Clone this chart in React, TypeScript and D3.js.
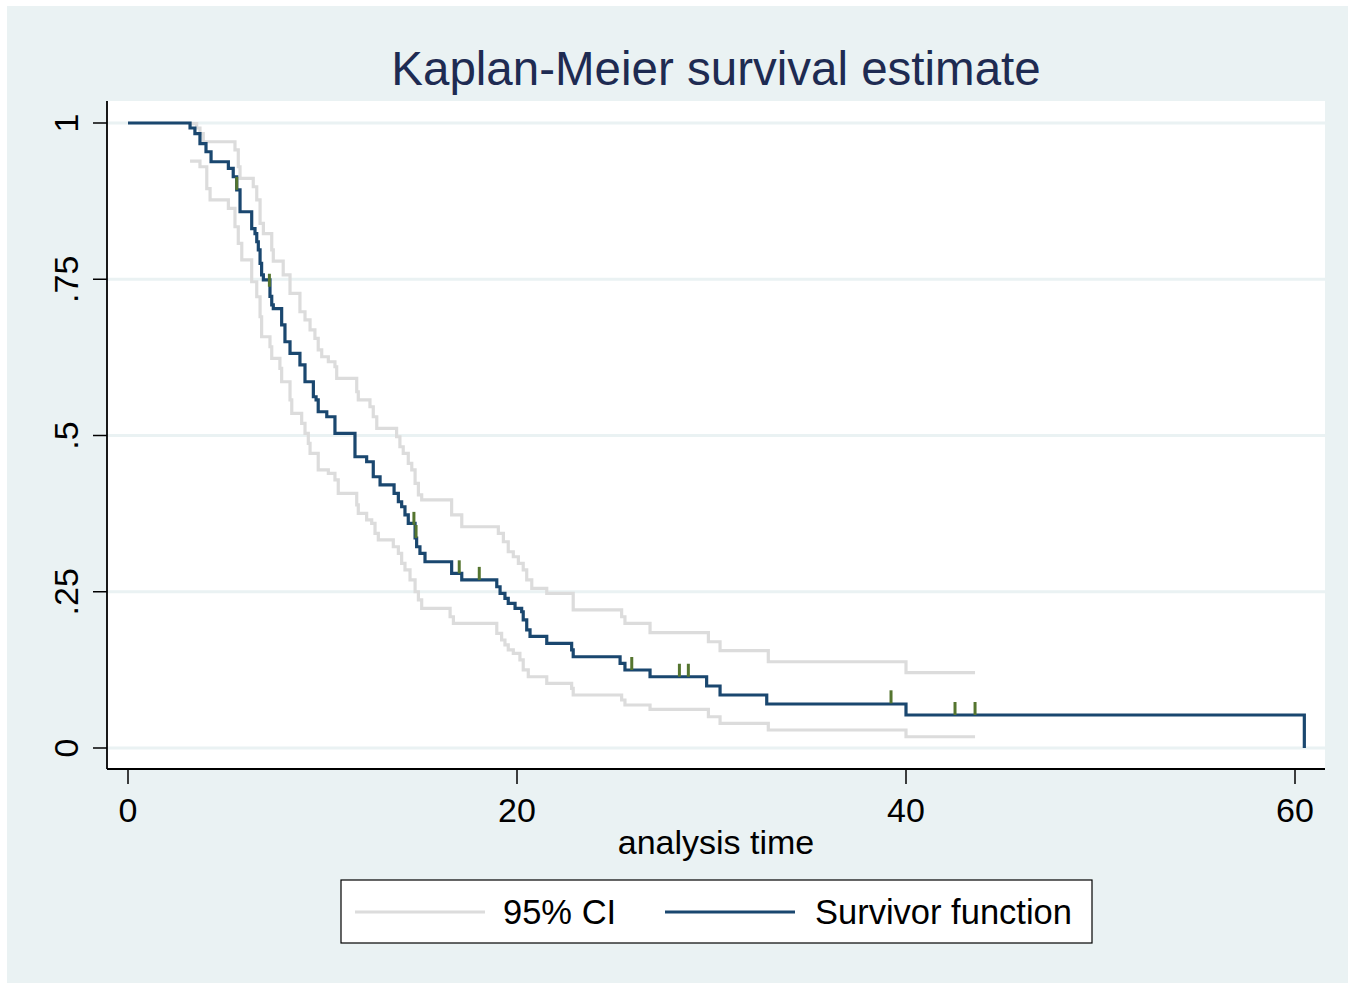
import React, { useEffect, useRef } from 'react'
import * as d3 from 'd3'

// survivor function: time of each step and value after it
const survTimes = [0, 3.19, 3.44, 3.70, 4.01, 4.27, 5.16, 5.41, 5.59, 5.76, 6.36, 6.53, 6.62, 6.70, 6.79, 6.87, 6.96,
  7.30, 7.39, 7.47, 7.90, 8.07, 8.33, 8.84, 9.10, 9.53, 9.67, 9.78, 10.22, 10.64, 11.67, 12.27, 12.61, 12.96,
  13.68, 13.90, 14.07, 14.24, 14.41, 14.76, 14.84, 15.01, 15.27, 16.64, 17.16, 18.96, 19.13, 19.38, 19.55,
  19.90, 20.24, 20.32, 20.50, 20.67, 21.53, 22.81, 22.89, 25.30, 25.55, 26.84, 29.75, 30.44, 32.84, 40.00, 60.48]
const survValues = [1, 0.992, 0.983, 0.967, 0.954, 0.938, 0.9275, 0.914, 0.893, 0.858, 0.831, 0.823, 0.810, 0.797,
  0.7755, 0.757, 0.749, 0.7225, 0.709, 0.703, 0.677, 0.650, 0.6315, 0.613, 0.586, 0.562, 0.557, 0.538, 0.530,
  0.5035, 0.466, 0.458, 0.434, 0.421, 0.4075, 0.394, 0.386, 0.373, 0.3595, 0.336, 0.322, 0.3115, 0.298, 0.2795,
  0.269, 0.258, 0.2475, 0.2395, 0.2315, 0.2235, 0.218, 0.205, 0.189, 0.1787, 0.1675, 0.157, 0.146, 0.1355,
  0.1248, 0.114, 0.0992, 0.0848, 0.0704, 0.0528, 0]

// 95% CI upper bound
const upperTimes = [3.19, 3.53, 3.70, 3.87, 5.50, 5.67, 5.76, 6.44, 6.62, 6.79, 6.96, 7.39, 7.47, 7.98, 8.33, 8.84,
  9.10, 9.36, 9.61, 9.78, 9.96, 10.30, 10.64, 10.73, 11.76, 11.84, 12.44, 12.61, 12.79, 13.81, 13.98, 14.15,
  14.41, 14.59, 14.76, 14.93, 15.10, 16.64, 17.16, 19.04, 19.30, 19.55, 19.81, 20.07, 20.32, 20.50, 20.76,
  21.53, 22.89, 25.38, 25.55, 26.84, 29.84, 30.44, 32.92, 40.00, 43.55]
const upperValues = [0.999, 0.992, 0.983, 0.970, 0.957, 0.930, 0.9115, 0.898, 0.877, 0.8395, 0.823, 0.797, 0.779,
  0.757, 0.7275, 0.698, 0.685, 0.669, 0.6555, 0.637, 0.626, 0.618, 0.610, 0.5915, 0.570, 0.557, 0.546, 0.530,
  0.5115, 0.498, 0.482, 0.4715, 0.4555, 0.445, 0.4235, 0.405, 0.397, 0.373, 0.354, 0.3435, 0.330, 0.314, 0.306,
  0.2955, 0.285, 0.269, 0.2555, 0.2475, 0.221, 0.210, 0.1995, 0.1845, 0.170, 0.1557, 0.138, 0.1205, 0.1205]

// 95% CI lower bound
const lowerTimes = [3.19, 3.70, 4.05, 4.22, 5.16, 5.50, 5.67, 5.85, 6.36, 6.62, 6.79, 6.87, 7.30, 7.39, 7.81, 7.90,
  8.33, 8.42, 8.93, 9.10, 9.27, 9.36, 9.78, 10.30, 10.64, 10.81, 11.76, 11.84, 12.27, 12.53, 12.70, 12.87,
  13.64, 13.90, 14.07, 14.24, 14.50, 14.76, 14.93, 15.10, 16.56, 16.73, 18.96, 19.21, 19.38, 19.55, 19.81,
  20.15, 20.32, 20.58, 21.53, 22.81, 22.89, 25.38, 25.55, 26.84, 29.84, 30.44, 32.92, 40.00, 43.55]
const lowerValues = [0.939, 0.930, 0.895, 0.877, 0.8635, 0.834, 0.8075, 0.781, 0.746, 0.722, 0.690, 0.658, 0.642,
  0.6235, 0.6075, 0.586, 0.557, 0.5355, 0.5195, 0.5035, 0.4875, 0.4715, 0.445, 0.4395, 0.429, 0.4075, 0.389,
  0.3755, 0.365, 0.3595, 0.3435, 0.333, 0.322, 0.3115, 0.2955, 0.285, 0.269, 0.250, 0.237, 0.2235, 0.210,
  0.1995, 0.1835, 0.1728, 0.165, 0.157, 0.1515, 0.141, 0.125, 0.114, 0.1035, 0.0955, 0.0848, 0.0768, 0.0688,
  0.0619, 0.050, 0.0395, 0.0288, 0.018, 0.018]

// censored observations
const censorTimes = [5.59, 7.27, 14.70, 14.81, 17.03, 18.06, 25.90, 28.35, 28.81, 39.23, 42.52, 43.55]
const censorValues = [0.893, 0.738, 0.357, 0.336, 0.2795, 0.269, 0.1248, 0.114, 0.114, 0.0715, 0.0528, 0.0528]

const xTicks = [0, 20, 40, 60]
const yTicks = [0, 0.25, 0.5, 0.75, 1]
const yTickLabels = ['0', '.25', '.5', '.75', '1']
const legendLabels = ['95% CI', 'Survivor function']

const FONT = '"Liberation Sans", Arial, Helvetica, sans-serif'
const NAVY = '#1a476f'
const CI_GRAY = '#dcdcdc'
const GREEN = '#55752f'
const BG = '#eaf2f3'

export default function App() {
  const ref = useRef<SVGSVGElement>(null)

  useEffect(() => {
    const svg = d3.select(ref.current)
    svg.selectAll('*').remove()

    const plot = { left: 107, right: 1325, top: 101, bottom: 769 }
    const x = d3.scaleLinear().domain([0, 60]).range([128, 1295])
    const y = d3.scaleLinear().domain([0, 1]).range([748, 123])

    svg.append('rect').attr('x', 7).attr('y', 6).attr('width', 1341).attr('height', 977).attr('fill', BG)
    svg.append('rect')
      .attr('x', plot.left).attr('y', plot.top)
      .attr('width', plot.right - plot.left).attr('height', plot.bottom - plot.top)
      .attr('fill', '#fff')

    // grid
    svg.append('g').selectAll('line').data(yTicks).enter().append('line')
      .attr('x1', plot.left).attr('x2', plot.right)
      .attr('y1', d => y(d)).attr('y2', d => y(d))
      .attr('stroke', BG).attr('stroke-width', 3)

    const step = d3.line<[number, number]>()
      .x(d => x(d[0])).y(d => y(d[1]))
      .curve(d3.curveStepAfter)

    const drawStep = (times: number[], values: number[], color: string) => {
      const pts = times.map((t, i) => [t, values[i]] as [number, number])
      svg.append('path')
        .attr('d', step(pts))
        .attr('fill', 'none')
        .attr('stroke', color)
        .attr('stroke-width', 3.2)
        .attr('stroke-linejoin', 'miter')
    }
    drawStep(upperTimes, upperValues, CI_GRAY)
    drawStep(lowerTimes, lowerValues, CI_GRAY)
    drawStep(survTimes, survValues, NAVY)

    svg.append('g').selectAll('line').data(censorTimes).enter().append('line')
      .attr('x1', d => x(d)).attr('x2', d => x(d))
      .attr('y1', (d, i) => y(censorValues[i]))
      .attr('y2', (d, i) => y(censorValues[i]) - 13)
      .attr('stroke', GREEN).attr('stroke-width', 3)

    // axes
    svg.append('line')
      .attr('x1', plot.left).attr('x2', plot.left).attr('y1', plot.top).attr('y2', plot.bottom)
      .attr('stroke', '#000').attr('stroke-width', 1.8)
    svg.append('line')
      .attr('x1', plot.left).attr('x2', plot.right).attr('y1', plot.bottom).attr('y2', plot.bottom)
      .attr('stroke', '#000').attr('stroke-width', 1.8)

    const yAxis = svg.append('g')
    yAxis.selectAll('line').data(yTicks).enter().append('line')
      .attr('x1', plot.left - 14).attr('x2', plot.left)
      .attr('y1', d => y(d)).attr('y2', d => y(d))
      .attr('stroke', '#000').attr('stroke-width', 1.5)
    yAxis.selectAll('text').data(yTicks).enter().append('text')
      .attr('transform', d => `translate(78,${y(d)}) rotate(-90)`)
      .attr('text-anchor', 'middle')
      .attr('font-family', FONT).attr('font-size', 34)
      .text((d, i) => yTickLabels[i])

    const xAxis = svg.append('g')
    xAxis.selectAll('line').data(xTicks).enter().append('line')
      .attr('x1', d => x(d)).attr('x2', d => x(d))
      .attr('y1', plot.bottom).attr('y2', plot.bottom + 15)
      .attr('stroke', '#000').attr('stroke-width', 1.5)
    xAxis.selectAll('text').data(xTicks).enter().append('text')
      .attr('x', d => x(d)).attr('y', 822)
      .attr('text-anchor', 'middle')
      .attr('font-family', FONT).attr('font-size', 34)
      .text(d => d)

    svg.append('text')
      .attr('x', 716).attr('y', 854)
      .attr('text-anchor', 'middle')
      .attr('font-family', FONT).attr('font-size', 34)
      .text('analysis time')

    svg.append('text')
      .attr('x', 716).attr('y', 85)
      .attr('text-anchor', 'middle')
      .attr('font-family', FONT).attr('font-size', 47.5)
      .attr('fill', '#1e2b52')
      .text('Kaplan-Meier survival estimate')

    // legend
    const legend = svg.append('g')
    legend.append('rect')
      .attr('x', 341).attr('y', 880).attr('width', 751).attr('height', 63)
      .attr('fill', '#fff').attr('stroke', '#000').attr('stroke-width', 1.2)
    const keys = [
      { color: CI_GRAY, lx: 355, tx: 503 },
      { color: NAVY, lx: 665, tx: 815 },
    ]
    keys.forEach((k, i) => {
      legend.append('line')
        .attr('x1', k.lx).attr('x2', k.lx + 130).attr('y1', 912).attr('y2', 912)
        .attr('stroke', k.color).attr('stroke-width', 3)
      legend.append('text')
        .attr('x', k.tx).attr('y', 924)
        .attr('font-family', FONT).attr('font-size', 34.5)
        .text(legendLabels[i])
    })
  }, [])

  return (
    <svg ref={ref} width={1355} height={987}
      style={{ position: 'absolute', left: 0, top: 0, background: '#fff' }} />
  )
}
